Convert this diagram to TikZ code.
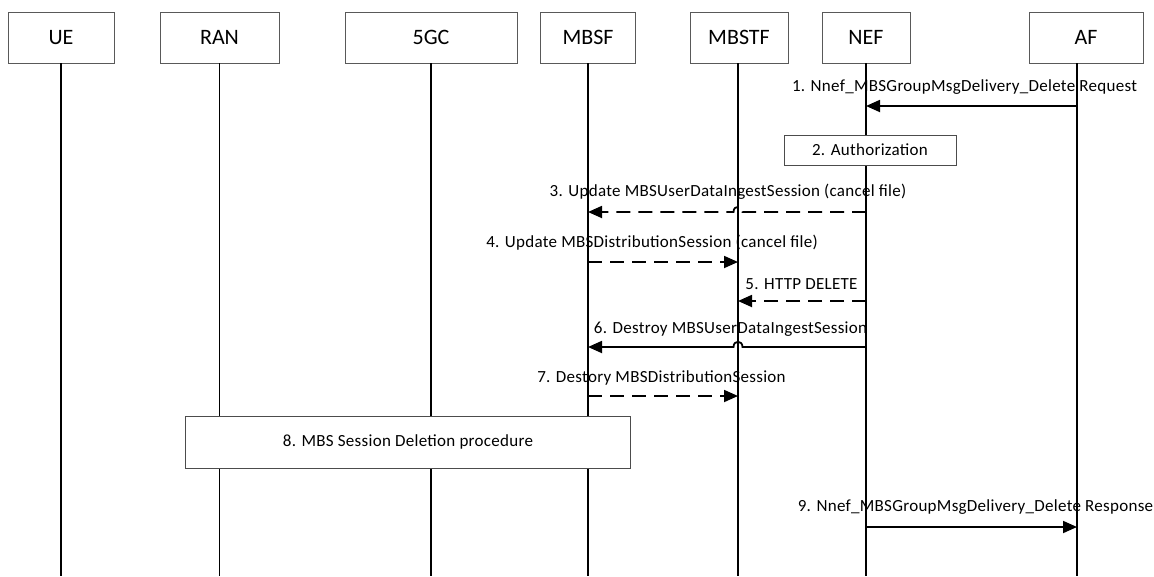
\documentclass[tikz,border=0pt]{standalone}
\usepackage{fontspec}
\setmainfont{Carlito}
\newfontfamily\lblfont[LetterSpace=1.7]{Carlito}
\usetikzlibrary{arrows.meta}
\begin{document}
\begin{tikzpicture}[x=1pt,y=-1pt,
  ent/.style={draw=black!65,line width=0.9pt,minimum height=51pt,inner sep=0pt,font=\fontsize{22}{24}\selectfont},
  life/.style={line width=1.8pt},
  msg/.style={line width=1.8pt,-{Triangle[length=14pt,width=12pt]}},
  dmsg/.style={msg,dash pattern=on 14pt off 8pt},
  lbl/.style={font=\lblfont\fontsize{17}{19}\selectfont,inner sep=0pt},
  proc/.style={draw=black!70,line width=0.9pt,fill=white,inner sep=0pt,font=\lblfont\fontsize{17}{19}\selectfont}]
\useasboundingbox (0,0) rectangle (1154,576);
% entity boxes
\node[ent,minimum width=106pt] (UE) at (61,37.5) {UE};
\node[ent,minimum width=119pt] (RAN) at (219.5,37.5) {RAN};
\node[ent,minimum width=172pt] (CN) at (431,37.5) {5GC};
\node[ent,minimum width=95pt] (MBSF) at (588,37.5) {MBSF};
\node[ent,minimum width=98pt] (MBSTF) at (739,37.5) {MBSTF};
\node[ent,minimum width=88pt] (NEF) at (866,37.5) {NEF};
\node[ent,minimum width=114pt] (AF) at (1086,37.5) {AF};
% lifelines
\foreach \n/\x in {UE/61,RAN/219.5,CN/431,MBSF/588,MBSTF/738,NEF/866,AF/1077}{
  \coordinate (\n-top) at (\x,63);
  \coordinate (\n-end) at (\x,576);
  \draw[life] (\n-top) -- (\n-end);
}
% message anchor points
\coordinate (af1) at (AF-top |- 0,106);
\coordinate (nef1) at (NEF-top |- 0,106);
\coordinate (nef3) at (NEF-top |- 0,212);
\coordinate (mbsf3) at (MBSF-top |- 0,212);
\coordinate (mbsf4) at (MBSF-top |- 0,262);
\coordinate (mbstf4) at (MBSTF-top |- 0,262);
\coordinate (nef5) at (NEF-top |- 0,301);
\coordinate (mbstf5) at (MBSTF-top |- 0,301);
\coordinate (nef6) at (NEF-top |- 0,347);
\coordinate (mbsf6) at (MBSF-top |- 0,347);
\coordinate (mbsf7) at (MBSF-top |- 0,396);
\coordinate (mbstf7) at (MBSTF-top |- 0,396);
\coordinate (nef9) at (NEF-top |- 0,527);
\coordinate (af9) at (AF-top |- 0,527);
% 1
\node[lbl] (l1) at (964.5,87) {1. Nnef\_MBSGroupMsgDelivery\_Delete Request};
\draw[msg] (af1) -- (nef1);
% 2
\node[proc,minimum width=172pt,minimum height=30pt] (auth) at (870,150) {2. Authorization};
% 3
\node[lbl] (l3) at (728,192) {3. Update MBSUserDataIngestSession (cancel file)};
\draw[dmsg] (nef3) -- (742.5,212) .. controls (742.5,205) and (733.5,205) .. (733.5,212) -- (mbsf3);
% 4
\node[lbl,anchor=east] (l4) at (818,243) {4. Update MBSDistributionSession (cancel file)};
\draw[dmsg] (mbsf4) -- (mbstf4);
% 5
\node[lbl] (l5) at (801.5,284) {5. HTTP DELETE};
\draw[dmsg] (nef5) -- (mbstf5);
% 6
\node[lbl] (l6) at (730.5,329) {6. Destroy MBSUserDataIngestSession};
\draw[msg] (nef6) -- (742.5,347) .. controls (742.5,340) and (733.5,340) .. (733.5,347) -- (mbsf6);
% 7
\node[lbl] (l7) at (661.5,378) {7. Destory MBSDistributionSession};
\draw[dmsg] (mbsf7) -- (mbstf7);
% 8
\node[proc,minimum width=445pt,minimum height=52pt] (sess) at (408,442) {8. MBS Session Deletion procedure};
% 9
\node[lbl] (l9) at (975.5,507) {9. Nnef\_MBSGroupMsgDelivery\_Delete Response};
\draw[msg] (nef9) -- (af9);
\end{tikzpicture}
\end{document}
